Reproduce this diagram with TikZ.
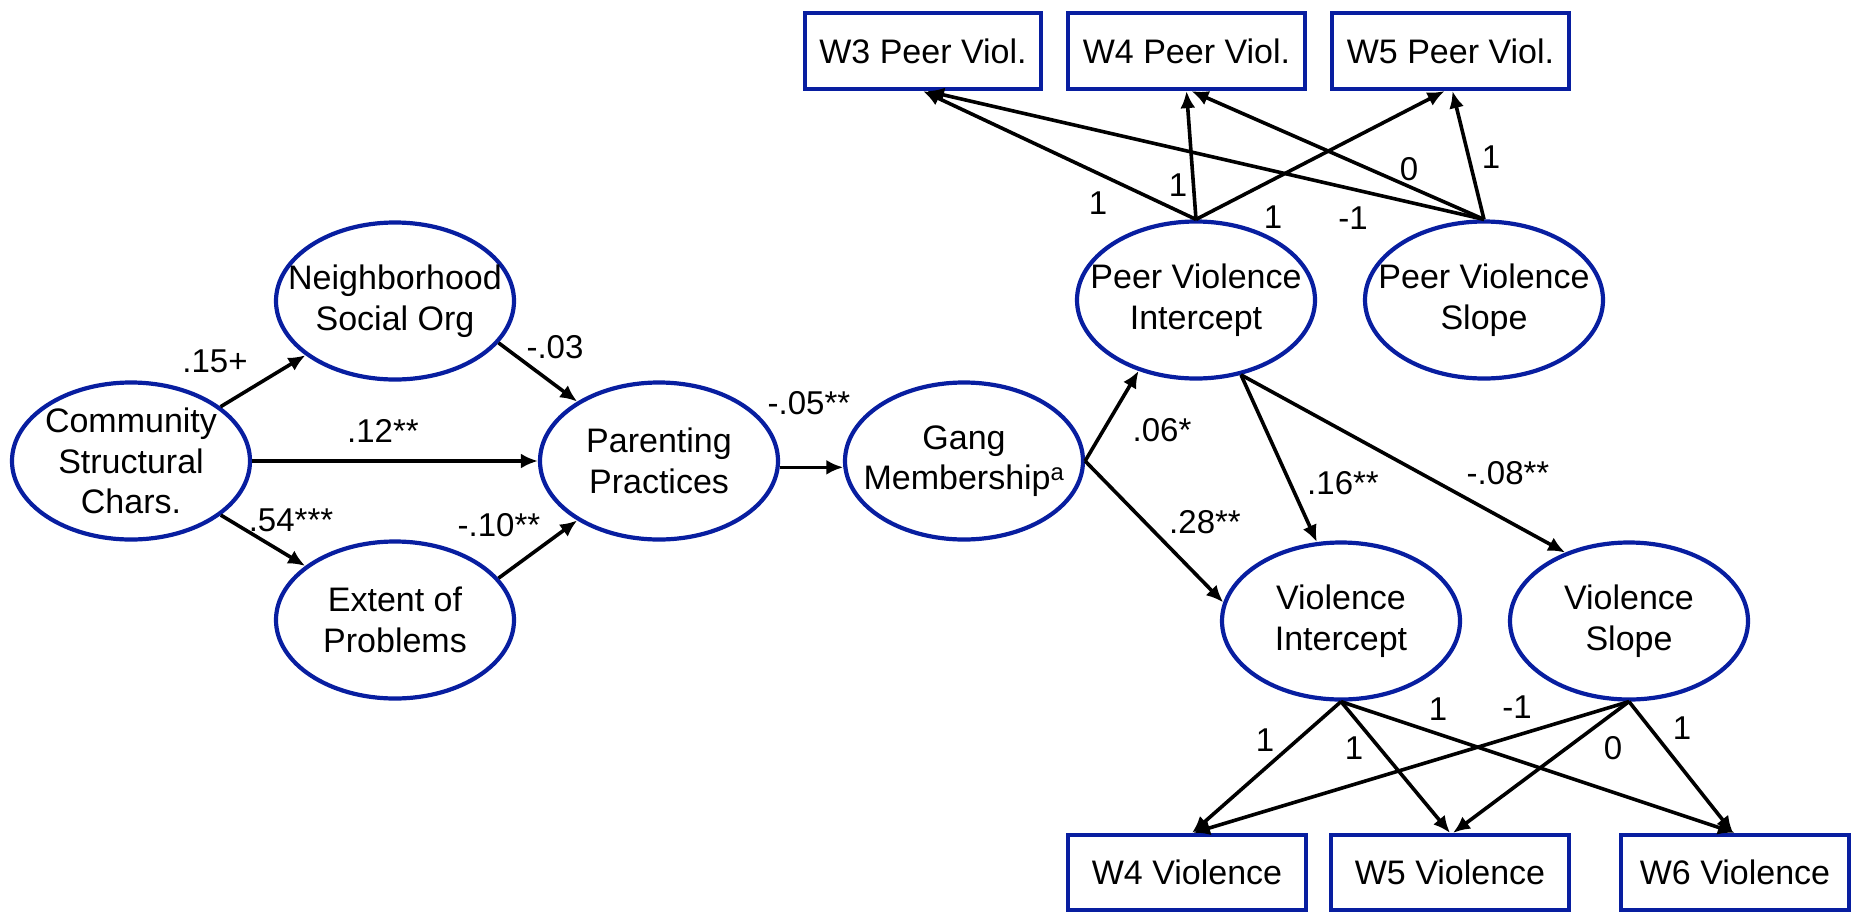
\documentclass[tikz,border=0pt]{standalone}
\usepackage{fontspec}
\setmainfont{Liberation Sans}
\usetikzlibrary{arrows.meta,shapes.geometric}
\definecolor{myblue}{RGB}{8,30,160}
\newcommand\myfs{\fontsize{34}{40.5}\selectfont}
\newcommand\mylf{\fontsize{33}{38}\selectfont}
\begin{document}
\begin{tikzpicture}[x=1pt,y=-1pt,
  lat/.style={ellipse, draw=myblue, line width=4.2pt, minimum width=238pt, minimum height=157pt, inner sep=0pt},
  obs/.style={rectangle, draw=myblue, line width=4.2pt, minimum height=76pt, inner sep=0pt, font=\myfs},
  lt/.style={align=center, font=\myfs, inner sep=0pt},
  lbl/.style={font=\mylf, inner sep=0pt},
  arr/.style={line width=3.6pt, -{Latex[length=17pt,width=15pt]}}]
\fill[white] (0,0) rectangle (1855,916);
\useasboundingbox (0,0) rectangle (1855,916);

% latent variables
\node[lat, label={[lt]center:Community\\Structural\\Chars.}] (comm) at (131,461) {};
\node[lat, label={[lt]center:Neighborhood\\Social Org}] (neigh) at (395,301) {};
\node[lat, label={[lt]center:Extent of\\Problems}] (ext) at (395,620) {};
\node[lat, label={[lt]center:Parenting\\Practices}] (par) at (659,461) {};
\node[lat, label={[lt]center:Gang\\Membership\textsuperscript{a}}] (gang) at (964,461) {};
\node[lat, label={[lt]center:Peer Violence\\Intercept}] (pvi) at (1196,300) {};
\node[lat, label={[lt]center:Peer Violence\\Slope}] (pvs) at (1484,300) {};
\node[lat, label={[lt]center:Violence\\Intercept}] (vi) at (1341,621) {};
\node[lat, label={[lt]center:Violence\\Slope}] (vs) at (1629,621) {};

% observed
\node[obs, minimum width=236pt] (w3p) at (923,51) {W3 Peer Viol.};
\node[obs, minimum width=237pt] (w4p) at (1186.5,51) {W4 Peer Viol.};
\node[obs, minimum width=237pt] (w5p) at (1450.5,51) {W5 Peer Viol.};
\node[obs, minimum width=238pt, minimum height=75pt] (w4v) at (1187,872.5) {W4 Violence};
\node[obs, minimum width=238pt, minimum height=75pt] (w5v) at (1450,872.5) {W5 Violence};
\node[obs, minimum width=228pt, minimum height=75pt] (w6v) at (1735,872.5) {W6 Violence};

% structural paths
\draw[arr] (comm) -- (neigh);
\draw[arr] (comm.east) -- (par.west);
\draw[arr] (comm) -- (ext);
\draw[arr] (neigh.-22) -- (par.144);
\draw[arr] (ext.22) -- (par.-144);
\draw[arr] (par.-3) -- (gang.183);
\draw[arr] (gang.east) -- (pvi.231);
\draw[arr] (gang.east) -- (vi.171);
\draw[arr] (pvi.-59) -- (vi.107);
\draw[arr] (pvi.-59) -- (vs.133);

% measurement paths (peer violence)
\draw[arr] (pvi.north) -- (w3p.south);
\draw[arr] (pvi.north) -- (w4p.south);
\draw[arr] (pvi.north) -- ([xshift=-6pt]w5p.south);
\draw[arr] (pvs.north) -- ([xshift=4pt]w3p.south);
\draw[arr] (pvs.north) -- ([xshift=5pt]w4p.south);
\draw[arr] (pvs.north) -- ([xshift=2pt]w5p.south);

% measurement paths (violence)
\draw[arr] (vi.south) -- ([xshift=5pt]w4v.north);
\draw[arr] (vi.south) -- (w5v.north);
\draw[arr] (vi.south) -- (w6v.north);
\draw[arr] (vs.south) -- ([xshift=6pt]w4v.north);
\draw[arr] (vs.south) -- ([xshift=3pt]w5v.north);
\draw[arr] (vs.south) -- ([xshift=-2pt]w6v.north);

% coefficient labels
\node[lbl] (c1) at (215,361) {.15+};
\node[lbl] (c2) at (383,431) {.12**};
\node[lbl] (c3) at (291,520) {.54***};
\node[lbl] (c4) at (555,347) {-.03};
\node[lbl] (c5) at (499,525) {-.10**};
\node[lbl] (c6) at (809,403) {-.05**};
\node[lbl] (c7) at (1162,430) {.06*};
\node[lbl] (c8) at (1205,522) {.28**};
\node[lbl] (c9) at (1343,483) {.16**};
\node[lbl] (c10) at (1508,473) {-.08**};

\node[lbl] (t1) at (1098,203) {1};
\node[lbl] (t2) at (1178,185) {1};
\node[lbl] (t3) at (1273,217) {1};
\node[lbl] (t4) at (1353,218) {-1};
\node[lbl] (t5) at (1409,169) {0};
\node[lbl] (t6) at (1491,157) {1};

\node[lbl] (b1) at (1265,740) {1};
\node[lbl] (b2) at (1354,748) {1};
\node[lbl] (b3) at (1438,709) {1};
\node[lbl] (b4) at (1517,707) {-1};
\node[lbl] (b5) at (1613,748) {0};
\node[lbl] (b6) at (1682,728) {1};
\end{tikzpicture}
\end{document}
